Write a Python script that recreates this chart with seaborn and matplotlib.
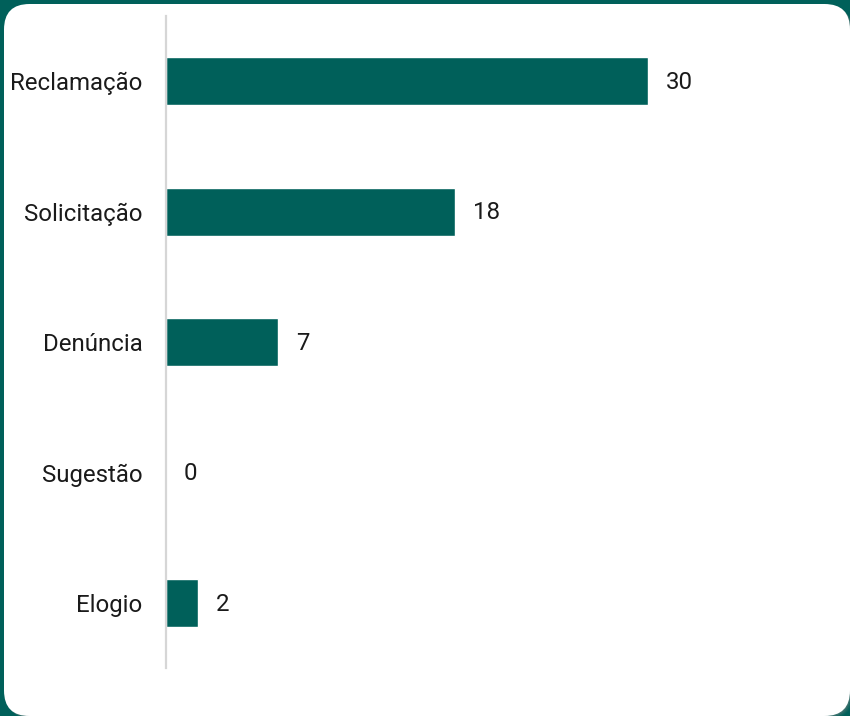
import matplotlib
matplotlib.use("Agg")
import matplotlib.pyplot as plt
from matplotlib.patches import FancyBboxPatch
import seaborn as sns
import pandas as pd

categories = ["Reclamação", "Solicitação", "Denúncia", "Sugestão", "Elogio"]
values = [30, 18, 7, 0, 2]

TEAL = "#00605a"
W, H, DPI = 850, 716, 100
FS = 17.3

sns.set_theme(style="white")
plt.rcParams["font.family"] = ["Roboto", "DejaVu Sans"]

fig = plt.figure(figsize=(W / DPI, H / DPI), dpi=DPI)
fig.patch.set_facecolor(TEAL)

# white rounded card with a soft shadow
def px(x, y):
    return x / W, 1 - y / H

for off, a in [(3, 0.10), (2, 0.15), (1, 0.25)]:
    x0, y1 = px(4 + off, 4 + off)
    x1, y0 = px(850 + off, 716 + off)
    fig.patches.append(FancyBboxPatch(
        (x0, y0), x1 - x0, y1 - y0,
        boxstyle="round,pad=0,rounding_size=0.03",
        transform=fig.transFigure, facecolor="#8a8a8a", alpha=a,
        edgecolor="none", mutation_aspect=W / H, zorder=-3))
x0, y1 = px(4, 4)
x1, y0 = px(850, 716)
fig.patches.append(FancyBboxPatch(
    (x0, y0), x1 - x0, y1 - y0,
    boxstyle="round,pad=0,rounding_size=0.03",
    transform=fig.transFigure, facecolor="white",
    edgecolor="none", mutation_aspect=W / H, zorder=-2))

ax_left, ax_right = 166, 846
ax_top, ax_bottom = 16, 668
ax = fig.add_axes([ax_left / W, (H - ax_bottom) / H,
                   (ax_right - ax_left) / W, (ax_bottom - ax_top) / H])
ax.set_facecolor("none")
ax.set_zorder(2)

df = pd.DataFrame({"categoria": categories, "valor": values})
sns.barplot(data=df, y="categoria", x="valor", order=categories,
            color=TEAL, saturation=1, width=0.368, orient="h", ax=ax)

for i, v in enumerate(values):
    ax.annotate(str(v), xy=(v, i), xytext=(13.0, -1.0), textcoords="offset points",
                ha="left", va="center", fontsize=FS, color="#1a1a1a")

ax.set_xlim(0, (ax_right - ax_left) / 16.07)
ax.set_ylim(4.5, -0.5)
ax.set_xlabel("")
ax.set_ylabel("")
ax.set_xticks([])
ax.tick_params(axis="y", length=0, pad=17, labelsize=FS, labelcolor="#1a1a1a")
for s in ["top", "right", "bottom"]:
    ax.spines[s].set_visible(False)
ax.spines["left"].set_color("#d6d6d6")
ax.spines["left"].set_linewidth(1.6)

fig.savefig("out.png", dpi=DPI, facecolor=fig.get_facecolor())
